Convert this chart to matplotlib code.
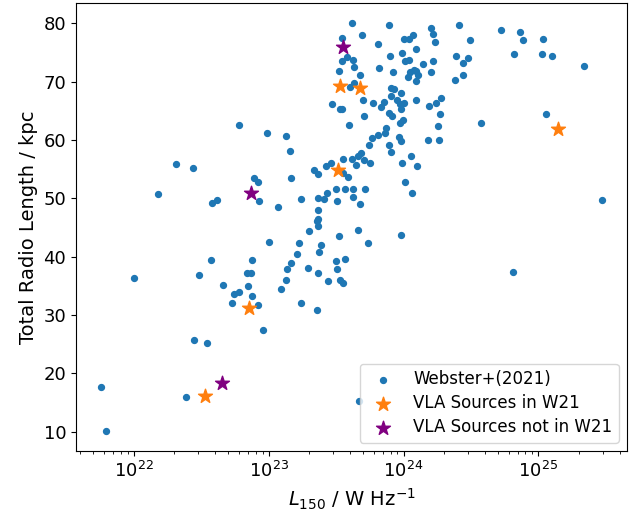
import matplotlib
matplotlib.use("Agg")
import matplotlib.pyplot as plt
import numpy as np

# Webster+(2021) sample: log10 L150 [W/Hz] and total radio length [kpc]
w21_logL = [
    22.778, 22.988, 22.309, 22.435, 22.178, 22.580, 22.618, 22.894, 22.919, 22.929,
    23.000, 22.000, 22.570, 22.480, 22.879, 22.837, 22.872, 22.659, 22.847, 22.741,
    22.778, 22.877, 22.724, 22.919, 22.958, 22.447, 22.544, 21.756, 21.796, 22.383,
    23.358, 23.366, 23.300, 23.519, 23.660, 23.983, 23.225, 23.388, 23.733, 23.373,
    23.210, 23.166, 23.133, 23.289, 23.496, 23.568, 23.509, 23.368, 23.129, 23.442,
    23.529, 23.553, 23.094, 23.237, 23.358, 23.670, 24.810, 24.413, 24.719, 24.864,
    24.496, 24.887, 25.037, 24.385, 24.442, 24.481, 24.820, 25.030, 25.100, 25.336,
    24.383, 24.437, 25.057, 24.576, 25.472, 23.620, 23.889, 24.203, 24.218, 23.694,
    23.546, 24.005, 24.040, 24.070, 24.230, 23.807, 24.092, 23.990, 23.896, 23.580,
    23.546, 23.622, 24.010, 24.042, 24.146, 24.215, 23.633, 23.815, 23.519, 23.924,
    23.674, 24.050, 24.074, 24.089, 24.033, 24.104, 24.092, 24.200, 23.600, 23.635,
    23.907, 23.931, 23.980, 23.909, 23.696, 23.770, 23.857, 23.835, 23.953, 23.970,
    24.005, 23.978, 24.089, 24.188, 24.240, 24.274, 24.272, 23.470, 23.531, 23.546,
    23.707, 23.894, 23.916, 23.595, 23.995, 23.976, 23.867, 23.859, 23.807, 23.768,
    23.744, 23.966, 23.983, 23.894, 23.904, 24.178, 24.259, 24.255, 23.131, 23.156,
    23.684, 23.660, 23.551, 23.615, 23.704, 23.753, 23.644, 23.462, 23.427, 23.333,
    23.363, 23.551, 23.588, 23.163, 23.985, 24.052, 24.101, 24.010, 24.062, 23.496,
    23.566, 23.625, 23.716, 23.625, 23.433, 23.407, 23.363, 23.240, 23.507, 23.674,
    23.072, 23.363, 23.363,
]
w21_length = [
    62.6, 61.3, 55.9, 55.2, 50.7, 49.2, 49.7, 53.5, 52.8, 49.6,
    42.5, 36.3, 39.4, 36.8, 39.4, 37.2, 37.3, 35.2, 35.0, 33.7,
    33.9, 33.2, 32.1, 31.8, 27.5, 25.8, 25.2, 17.7, 10.2, 16.0,
    46.2, 45.2, 44.4, 43.6, 44.6, 43.8, 42.4, 42.0, 42.4, 40.8,
    40.4, 38.9, 37.9, 38.1, 39.2, 39.6, 37.9, 37.3, 36.1, 35.8,
    36.1, 35.5, 34.5, 32.0, 30.9, 15.3, 37.4, 79.8, 78.9, 78.6,
    77.2, 77.1, 77.3, 74.4, 73.2, 74.0, 74.7, 74.7, 74.4, 72.7,
    70.3, 71.1, 64.5, 63.0, 49.7, 80.0, 79.8, 79.2, 78.2, 78.0,
    77.5, 77.4, 77.4, 78.1, 76.8, 76.5, 75.6, 75.0, 74.4, 74.3,
    73.5, 73.8, 73.5, 73.7, 73.1, 73.5, 72.5, 72.4, 71.9, 71.7,
    71.1, 71.6, 72.0, 71.8, 70.8, 71.1, 70.2, 71.6, 69.1, 69.8,
    69.0, 68.8, 68.0, 67.6, 66.9, 66.4, 66.6, 65.7, 66.9, 66.2,
    66.3, 65.4, 66.8, 65.8, 66.4, 67.3, 64.4, 66.2, 65.4, 65.4,
    64.2, 64.7, 64.2, 62.6, 63.5, 62.9, 62.1, 61.3, 60.9, 60.3,
    59.2, 60.6, 59.9, 59.1, 58.0, 60.1, 60.1, 62.4, 60.7, 58.1,
    57.8, 57.2, 56.8, 56.7, 56.6, 56.0, 55.7, 56.1, 55.5, 54.9,
    54.2, 54.3, 53.7, 53.5, 56.1, 57.2, 55.6, 52.9, 50.9, 51.6,
    51.6, 51.6, 51.7, 50.3, 50.9, 49.9, 50.1, 49.9, 49.6, 49.1,
    48.6, 48.0, 46.4,
]

# VLA sources that are in W21
vla_in_logL = [23.526, 23.674, 23.511, 22.855, 22.531, 25.148]
vla_in_length = [69.3, 69.0, 54.8, 31.2, 16.1, 61.9]

# VLA sources not in W21
vla_out_logL = [23.553, 22.867, 22.650]
vla_out_length = [75.9, 50.9, 18.3]

plt.rcParams['font.size'] = 12

fig = plt.figure(figsize=(6.38, 5.16), dpi=100)
ax = fig.add_axes([0.119, 0.126, 0.864, 0.868])

ax.scatter(10 ** np.array(w21_logL), w21_length, s=18, color='C0',
           label='Webster+(2021)', zorder=2)
ax.scatter(10 ** np.array(vla_in_logL), vla_in_length, s=110, marker='*',
           color='C1', label='VLA Sources in W21', zorder=3)
ax.scatter(10 ** np.array(vla_out_logL), vla_out_length, s=110, marker='*',
           color='purple', label='VLA Sources not in W21', zorder=3)

ax.set_xscale('log')
ax.tick_params(axis='both', which='major', labelsize=13)
ax.set_xlabel(r'$L_{150}$ / W Hz$^{-1}$', fontsize=14)
ax.set_ylabel('Total Radio Length / kpc', fontsize=14)
ax.legend(loc='lower right', labelspacing=0.35)

fig.savefig('out.png', dpi=100)
